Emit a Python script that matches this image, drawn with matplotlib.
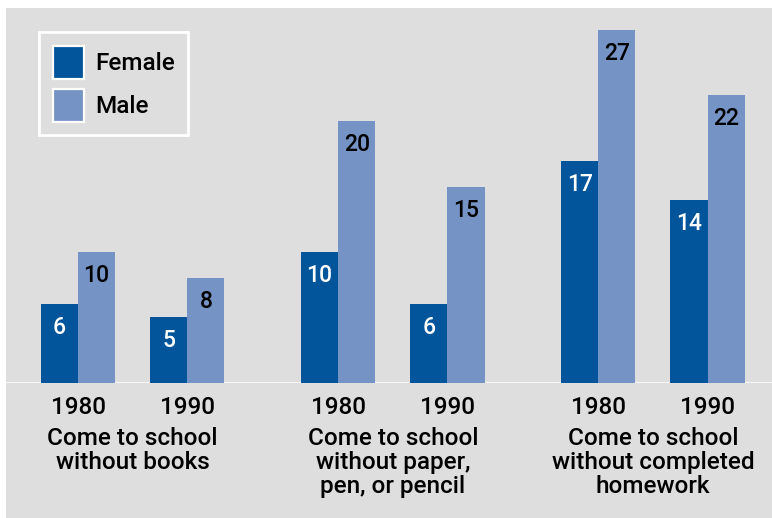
import numpy as np
import matplotlib.pyplot as plt
from matplotlib.patches import Patch, Rectangle

# Share of students (%) by behaviour, year and sex
groups = ['Come to school\nwithout books',
          'Come to school\nwithout paper,\npen, or pencil',
          'Come to school\nwithout completed\nhomework']
years = ['1980', '1990']
female = [6, 5, 10, 6, 17, 14]
male = [10, 8, 20, 15, 27, 22]

c_female = '#02549b'
c_male = '#7594c5'
bg = '#dedede'

plt.rcParams['font.family'] = ['Roboto', 'DejaVu Sans']

fig = plt.figure(figsize=(7.72, 5.18), dpi=100, facecolor='white')
W, H = 772, 518
fig.patches.append(Rectangle((6 / W, 0), 766 / W, 510 / H, transform=fig.transFigure,
                             facecolor=bg, edgecolor='none', zorder=-10))

ax = fig.add_axes([6 / W, (H - 382.7) / H, 766 / W, 374.7 / H])
ax.set_facecolor('none')
for s in ax.spines.values():
    s.set_visible(False)
ax.set_xticks([])
ax.set_yticks([])

gap = 1.38
pos = np.array([g * (1 + gap) + y for g in range(3) for y in range(2)], dtype=float)
bw = 0.34

ax.bar(pos - bw / 2, female, bw, color=c_female, linewidth=0)
ax.bar(pos + bw / 2, male, bw, color=c_male, linewidth=0)
ax.set_xlim(-72 / 109.3, 694 / 109.3)
ax.set_ylim(0, 374.7 / 13.07)
ax.axhline(0, color='white', lw=1.8, zorder=0)

fw = 'medium'
for p, v in zip(pos - bw / 2, female):
    ax.annotate(str(v), (p, v), xytext=(0, -21.6), textcoords='offset points',
                ha='center', va='baseline', color='white', fontsize=16.5, fontweight=fw)
for p, v in zip(pos + bw / 2, male):
    ax.annotate(str(v), (p, v), xytext=(0, -21.6), textcoords='offset points',
                ha='center', va='baseline', color='black', fontsize=16.5, fontweight=fw)

for i, p in enumerate(pos):
    ax.annotate(years[i % 2], (p, 0), xycoords=('data', 'axes fraction'),
                xytext=(0, -22.8), textcoords='offset points',
                ha='center', va='baseline', fontsize=17.5, fontweight=fw)

# category labels, one line at a time (24 px line pitch)
for g, label in enumerate(groups):
    cx = pos[2 * g:2 * g + 2].mean()
    for k, line in enumerate(label.split('\n')):
        ax.annotate(line, (cx, 0), xycoords=('data', 'axes fraction'),
                    xytext=(0, -(62.3 + 24 * k) * 0.72), textcoords='offset points',
                    ha='center', va='baseline', fontsize=17.5, fontweight=fw)

handles = [Patch(facecolor=c_female, edgecolor='white', linewidth=1.6, label='Female'),
           Patch(facecolor=c_male, edgecolor='white', linewidth=1.6, label='Male')]
leg = fig.legend(handles=handles, loc='upper left',
                 bbox_to_anchor=(39.3 / W, (H - 32.3) / H), bbox_transform=fig.transFigure,
                 borderaxespad=0, fancybox=False, facecolor=bg, edgecolor='white',
                 framealpha=1, prop={'size': 17.5, 'weight': fw},
                 handlelength=1.3, handleheight=1.75, handletextpad=0.45,
                 labelspacing=0.38, borderpad=0.55)
leg.get_frame().set_linewidth(2)

fig.savefig('out.png', dpi=100, facecolor='white')
